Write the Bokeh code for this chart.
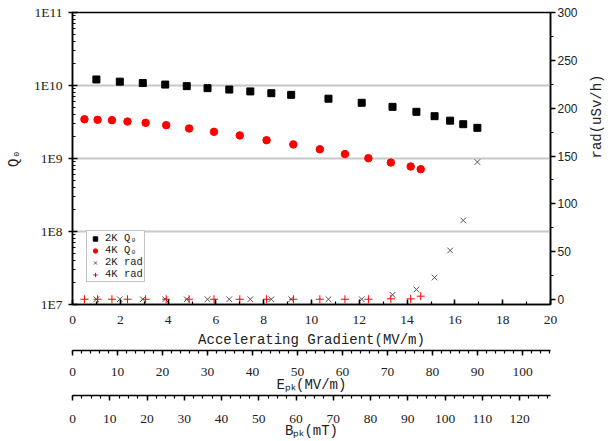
import math
from bokeh.plotting import figure
from bokeh.models import (Range1d, LinearAxis, LinearScale, FixedTicker, SingleIntervalTicker,
                          Legend, LegendItem, Label, CustomJSTickFormatter)
from bokeh.embed import file_html
from bokeh.resources import INLINE

# ---------------- data ----------------
eacc_2k = [1.0, 1.98, 2.94, 3.88, 4.78, 5.65, 6.56, 7.44, 8.32, 9.15, 10.71,
           12.1, 13.39, 14.39, 15.15, 15.8, 16.35, 16.94]
q0_2k = [1.21e10, 1.13e10, 1.08e10, 1.03e10, 9.8e9, 9.2e9, 8.8e9, 8.3e9, 7.85e9,
         7.45e9, 6.6e9, 5.8e9, 5.1e9, 4.36e9, 3.8e9, 3.3e9, 2.95e9, 2.63e9]
rad_2k = [0.3, 0.3, 0.3, 0.3, 0.3, 0.3, 0.3, 0.3, 0.3, 0.3, 0.3, 0.3,
          4.9, 10.5, 23.0, 51.3, 82.7, 143.7]

eacc_4k = [0.5, 1.05, 1.65, 2.30, 3.06, 3.92, 4.88, 5.92, 7.0, 8.12, 9.24,
           10.35, 11.40, 12.38, 13.32, 14.15, 14.57]
q0_4k = [3.45e9, 3.39e9, 3.35e9, 3.21e9, 3.08e9, 2.86e9, 2.58e9, 2.32e9, 2.07e9,
         1.78e9, 1.56e9, 1.34e9, 1.15e9, 1.01e9, 8.8e8, 7.77e8, 7.14e8]
rad_4k = [0.3, 0.3, 0.3, 0.3, 0.3, 0.3, 0.3, 0.3, 0.3, 0.3, 0.3, 0.3, 0.3, 0.3,
          0.7, 0.7, 3.5]

EACC_MAX = 20.0
EPK_PER_EACC = 5.31      # (MV/m) per (MV/m)
BPK_PER_EACC = 6.415     # mT per (MV/m)
RAD_MIN, RAD_MAX = -5.2, 300.0
Q_MIN, Q_MAX = 1e7, 1e11

SERIF = "Liberation Serif"
MONO = "Liberation Mono"

p = figure(width=615, height=441, output_backend="svg", toolbar_location=None,
           x_range=Range1d(0, EACC_MAX), y_range=Range1d(Q_MIN, Q_MAX),
           y_axis_type="log",
           min_border_left=72, min_border_right=62, min_border_top=12,
           min_border_bottom=137)
p.background_fill_color = "white"
p.border_fill_color = "white"
p.outline_line_color = "black"
p.outline_line_width = 1.5

p.extra_y_ranges = {"rad": Range1d(RAD_MIN, RAD_MAX)}
p.extra_y_scales = {"rad": LinearScale()}
p.extra_x_ranges = {"epk": Range1d(0, EACC_MAX * EPK_PER_EACC),
                    "bpk": Range1d(0, EACC_MAX * BPK_PER_EACC)}
p.extra_x_scales = {"epk": LinearScale(), "bpk": LinearScale()}

# grid
p.xgrid.visible = False
p.ygrid.ticker = FixedTicker(ticks=[1e8, 1e9, 1e10])
p.ygrid.grid_line_color = "#c8c8c8"
p.ygrid.grid_line_width = 2


def style_axis(ax, font=SERIF, size="13.5px"):
    ax.axis_line_color = "black"
    ax.axis_line_width = 1.5
    ax.major_tick_line_color = "black"
    ax.minor_tick_line_color = "black"
    ax.major_tick_line_width = 1.5
    ax.minor_tick_line_width = 1.2
    ax.major_label_text_font = font
    ax.major_label_text_font_size = size
    ax.major_label_text_color = "#222222"
    ax.axis_label_text_font = MONO
    ax.axis_label_text_font_size = "14px"
    ax.axis_label_text_font_style = "normal"
    ax.axis_label_text_color = "#222222"


# left log axis
ly = p.yaxis[0]
style_axis(ly)
minor_q = [k * 10 ** d for d in range(7, 11) for k in range(2, 10)]
ly.ticker = FixedTicker(ticks=[1e7, 1e8, 1e9, 1e10, 1e11], minor_ticks=minor_q)
ly.formatter = CustomJSTickFormatter(code="return '1E' + Math.round(Math.log10(tick));")
ly.major_tick_in = 5
ly.major_tick_out = 4
ly.minor_tick_in = 3
ly.minor_tick_out = 0
ly.major_label_standoff = 6
ly.axis_label = "Q\u2080"
ly.axis_label_standoff = 9

# main x axis
bx = p.xaxis[0]
style_axis(bx)
bx.ticker = SingleIntervalTicker(interval=2, num_minor_ticks=2)
bx.major_tick_in = 5
bx.major_tick_out = 0
bx.minor_tick_in = 3
bx.minor_tick_out = 0
bx.major_label_standoff = 11
bx.axis_label = "Accelerating Gradient(MV/m)"
bx.axis_label_standoff = 5

# E_pk axis
ex = LinearAxis(x_range_name="epk",
                ticker=SingleIntervalTicker(interval=10, num_minor_ticks=5))
style_axis(ex)
ex.major_tick_in = 0
ex.major_tick_out = 5
ex.minor_tick_in = 0
ex.minor_tick_out = 3
ex.major_label_standoff = 12
ex.axis_label = "E\u209a\u2096(MV/m)"
ex.axis_label_standoff = -2
p.add_layout(ex, "below")

# B_pk axis
bxx = LinearAxis(x_range_name="bpk",
                 ticker=SingleIntervalTicker(interval=10, num_minor_ticks=4))
style_axis(bxx)
bxx.major_tick_in = 0
bxx.major_tick_out = 5
bxx.minor_tick_in = 0
bxx.minor_tick_out = 3
bxx.major_label_standoff = 14
bxx.axis_label = "B\u209a\u2096(mT)"
bxx.axis_label_standoff = -3
p.add_layout(bxx, "below")

# right axis
ry = LinearAxis(y_range_name="rad",
                ticker=SingleIntervalTicker(interval=50, num_minor_ticks=2))
style_axis(ry, font="Liberation Sans", size="12px")
ry.major_tick_in = 0
ry.major_tick_out = 5
ry.minor_tick_in = 0
ry.minor_tick_out = 3
ry.major_label_standoff = 2
if hasattr(ry, "axis_label_orientation"):
    ry.axis_label = "rad(uSv/h)"
    ry.axis_label_orientation = math.pi / 2
    ry.axis_label_standoff = 16
else:
    p.add_layout(Label(x=536, y=149, x_units="screen", y_units="screen",
                       text="rad(uSv/h)", angle=90, angle_units="deg",
                       text_align="center", text_baseline="middle",
                       text_font=MONO, text_font_size="14px", text_color="#222222"))
p.add_layout(ry, "right")

# data
r1 = p.scatter(eacc_2k, q0_2k, marker="square", size=7, color="black")
r2 = p.scatter(eacc_4k, q0_4k, marker="circle", size=7.5, color="red")
r3 = p.scatter(eacc_2k, rad_2k, marker="x", size=8, line_color="#555555",
               line_width=1, y_range_name="rad")
r4 = p.scatter(eacc_4k, rad_4k, marker="cross", size=8, line_color="red",
               line_width=1, y_range_name="rad")

legend = Legend(items=[LegendItem(label="2K Q\u2080", renderers=[r1]),
                       LegendItem(label="4K Q\u2080", renderers=[r2]),
                       LegendItem(label="2K rad", renderers=[r3]),
                       LegendItem(label="4K rad", renderers=[r4])],
                location=(14, 22))
legend.label_text_font = MONO
legend.label_text_font_size = "10.5px"
legend.label_text_color = "#222222"
legend.glyph_height = 11
legend.glyph_width = 14
legend.label_height = 10
legend.label_standoff = 3
legend.padding = 1
legend.margin = 0
legend.spacing = 0
legend.border_line_color = "#888888"
legend.border_line_width = 1
p.add_layout(legend)

open("out.html", "w").write(file_html(p, INLINE))
